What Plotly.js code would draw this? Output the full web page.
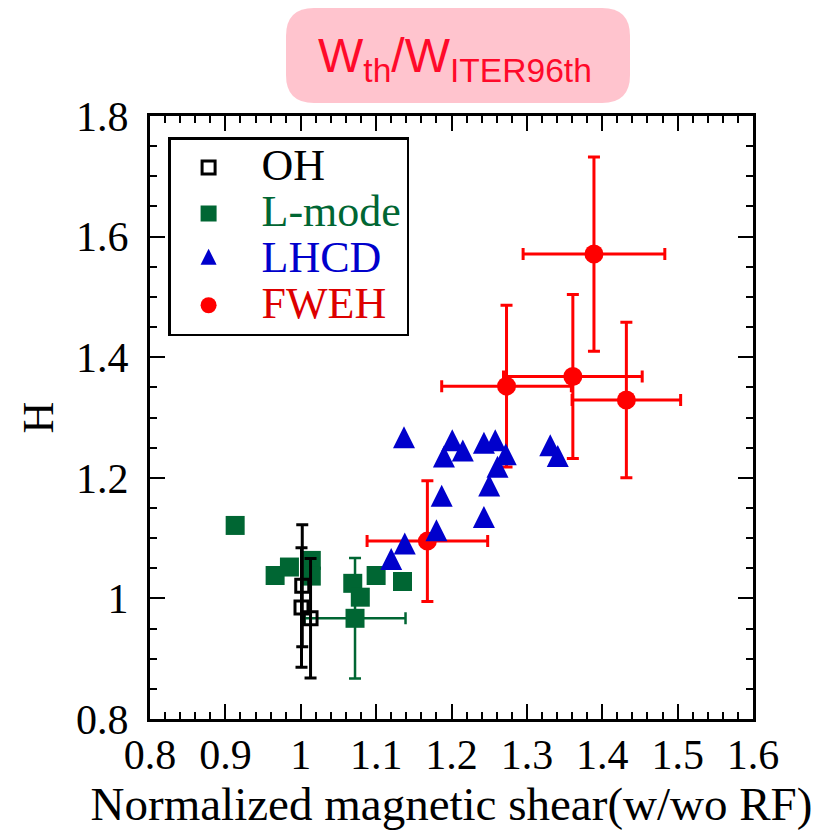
<!DOCTYPE html>
<html>
<head>
<meta charset="utf-8">
<script src="https://cdn.plot.ly/plotly-3.0.1.min.js"></script>
<style>html,body{margin:0;padding:0;background:#fff;}#chart{width:823px;height:830px;}</style>
</head>
<body>
<div id="chart"></div>
<script>
// ---- data ----
const ohX = [1.002, 1.001, 1.013];
const ohY = [1.021, 0.985, 0.967];
const ohYErr = [0.101, 0.099, 0.099];

const lmodeX = [0.913, 0.966, 0.985, 1.014, 1.014, 1.069, 1.079, 1.100, 1.135, 1.072];
const lmodeY = [1.121, 1.038, 1.052, 1.063, 1.037, 1.025, 1.002, 1.038, 1.028, 0.967];
const lmodeXErr = [null, null, null, null, null, null, null, null, null, 0.067];
const lmodeYErr = [null, null, null, null, null, null, null, null, null, 0.100];

const lhcdX = [1.137, 1.201, 1.190, 1.215, 1.243, 1.258, 1.272, 1.261, 1.250, 1.243, 1.187, 1.180, 1.138, 1.120, 1.331, 1.341];
const lhcdY = [1.261, 1.256, 1.229, 1.239, 1.252, 1.256, 1.233, 1.212, 1.181, 1.129, 1.164, 1.107, 1.085, 1.059, 1.248, 1.230];

const fwehX = [1.168, 1.273, 1.361, 1.389, 1.432];
const fwehY = [1.095, 1.352, 1.368, 1.571, 1.329];
const fwehXErr = [0.080, 0.086, 0.092, 0.094, 0.072];
const fwehYErr = [0.100, 0.134, 0.136, 0.161, 0.129];

const seriesNames = ['OH', 'L-mode', 'LHCD', 'FWEH'];
const titleText = 'W<sub>th</sub>/W<sub>ITER96th</sub>';
const xTitle = 'Normalized magnetic shear(w/wo RF)';
const yTitle = 'H';

// ---- styles ----
const GREEN = '#006633', BLUE = '#0000cc', RED = '#ff0000';
const SERIF = 'Liberation Serif, Times New Roman, serif';
function legName(t, c) { return '<span style="font-size:44px;color:' + c + '">' + t + '</span>'; }

const traces = [
  {
    x: fwehX, y: fwehY, mode: 'markers', name: legName(seriesNames[3], '#dd0000'), legendrank: 4,
    marker: {symbol: 'circle', size: 19, color: RED, line: {width: 0}},
    error_x: {type: 'data', array: fwehXErr, visible: true, color: RED, thickness: 3, width: 6},
    error_y: {type: 'data', array: fwehYErr, visible: true, color: RED, thickness: 3, width: 6}
  },
  {
    x: lmodeX, y: lmodeY, mode: 'markers', name: legName(seriesNames[1], GREEN), legendrank: 2,
    marker: {symbol: 'square', size: 19, color: GREEN, line: {width: 0}},
    error_x: {type: 'data', array: lmodeXErr, visible: true, color: GREEN, thickness: 2.5, width: 6},
    error_y: {type: 'data', array: lmodeYErr, visible: true, color: GREEN, thickness: 2.5, width: 6}
  },
  {
    x: lhcdX, y: lhcdY, mode: 'markers', name: seriesNames[2], showlegend: false,
    marker: {symbol: 'arrow-down', angle: 180, standoff: 14.7, size: 22, color: BLUE, line: {width: 0}}
  },
  {
    x: [null], y: [null], mode: 'markers', name: legName(seriesNames[2], BLUE), legendrank: 3,
    marker: {symbol: 'arrow-up', standoff: 10.67, size: 16, color: BLUE, line: {width: 0}}
  },
  {
    x: ohX, y: ohY, mode: 'markers', name: legName(seriesNames[0], '#000000'), legendrank: 1,
    marker: {symbol: 'square-open', size: 13, color: '#000000', line: {width: 3, color: '#000000'}},
    error_y: {type: 'data', array: ohYErr, visible: true, color: '#000000', thickness: 3, width: 6}
  }
];

const R = 28 / 603;
const bx0 = (286 - 150) / 603, bx1 = (630 - 150) / 603;
const by0 = (719 - 103) / 603, by1 = (719 - 8) / 603;
const boxPath = 'M' + (bx0 + R) + ',' + by0 + ' L' + (bx1 - R) + ',' + by0 +
  ' Q' + bx1 + ',' + by0 + ' ' + bx1 + ',' + (by0 + R) +
  ' L' + bx1 + ',' + (by1 - R) +
  ' Q' + bx1 + ',' + by1 + ' ' + (bx1 - R) + ',' + by1 +
  ' L' + (bx0 + R) + ',' + by1 +
  ' Q' + bx0 + ',' + by1 + ' ' + bx0 + ',' + (by1 - R) +
  ' L' + bx0 + ',' + (by0 + R) +
  ' Q' + bx0 + ',' + by0 + ' ' + (bx0 + R) + ',' + by0 + ' Z';

const axisCommon = {
  ticks: 'inside', ticklen: 15, tickwidth: 2, tickcolor: '#000',
  showline: true, linewidth: 3, linecolor: '#000', mirror: 'ticks',
  showgrid: false, zeroline: false,
  tickfont: {family: SERIF, size: 42, color: '#000'}
};

const layout = {
  width: 823, height: 830,
  margin: {l: 150, r: 70, t: 116, b: 111},
  paper_bgcolor: '#fff', plot_bgcolor: '#fff',
  showlegend: true,
  legend: {
    x: 0.03, y: 0.965, xanchor: 'left', yanchor: 'top',
    bgcolor: '#fff', bordercolor: '#000', borderwidth: 2.5,
    font: {family: SERIF, size: 33, color: '#000'},
    itemwidth: 96, indentation: -15, tracegroupgap: 0
  },
  xaxis: Object.assign({}, axisCommon, {
    range: [0.8, 1.6], tick0: 0.8, dtick: 0.1, ticklabelstandoff: -3,
    minor: {dtick: 0.02, ticks: 'inside', ticklen: 7, tickwidth: 2, tickcolor: '#000', showgrid: false},
    title: {text: xTitle, font: {family: SERIF, size: 47, color: '#000'}, standoff: 9}
  }),
  yaxis: Object.assign({}, axisCommon, {
    range: [0.8, 1.8], tick0: 0.8, dtick: 0.2, ticklabelstandoff: 10,
    minor: {dtick: 0.05, ticks: 'inside', ticklen: 7, tickwidth: 2, tickcolor: '#000', showgrid: false},
    title: {text: yTitle, font: {family: SERIF, size: 44, color: '#000'}, standoff: 9}
  }),
  shapes: [{
    type: 'path', xref: 'paper', yref: 'paper', path: boxPath,
    fillcolor: 'rgb(255,196,206)', line: {width: 0}, layer: 'above'
  }],
  annotations: [{
    xref: 'paper', yref: 'paper', x: 0.505, y: 1.095, xanchor: 'center', yanchor: 'middle',
    text: titleText, showarrow: false,
    font: {family: 'Liberation Sans, Arial, sans-serif', size: 48, color: '#ff0a2a'}
  }]
};

Plotly.newPlot('chart', traces, layout, {displayModeBar: false, staticPlot: true});
</script>
</body>
</html>
